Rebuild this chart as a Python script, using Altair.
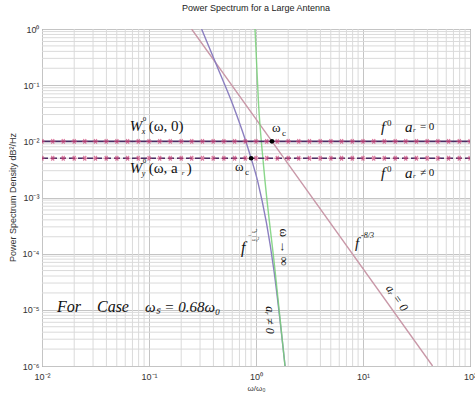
import math
import altair as alt
import pandas as pd

# ---- axes -------------------------------------------------------------
x_ticks = [0.01, 0.1, 1, 10, 100]
x_tick_labels = ["10⁻²", "10⁻¹", "10⁰", "10¹", "10²"]
y_ticks = [1, 0.1, 0.01, 0.001, 1e-4, 1e-5, 1e-6]
y_tick_labels = ["10⁰", "10⁻¹", "10⁻²", "10⁻³", "10⁻⁴", "10⁻⁵", "10⁻⁶"]
minor_mantissas = [2, 3, 4, 5, 6, 7, 8, 9]
x_decades = [0.01, 0.1, 1, 10]
y_decades = [1e-6, 1e-5, 1e-4, 1e-3, 1e-2, 0.1]

# ---- flat (f^0) spectra ---------------------------------------------------
marker_mantissas = [1.0, 1.26, 1.58, 2.0, 2.51, 3.16, 3.98, 5.01, 6.31, 7.94]
flat_level_ar0 = 0.01      # W_x^0(w, 0)
flat_level_ar = 0.005      # W_y^0(w, a_r)

# ---- f^-8/3 spectrum, a_r = 0 ----------------------------------------------
pink_x = [0.25, 1.41, 44.7]
pink_y = [1.0, 1e-2, 1e-6]

# ---- spectrum for a_r != 0 ---------------------------------------------------
purple_x = [0.31, 0.44, 0.61, 0.79, 0.90, 1.04, 1.47, 1.87]
purple_y = [1.0, 0.2, 0.044, 0.011, 0.005, 0.0019, 5.1e-5, 1e-6]

# ---- limit w -> infinity -----------------------------------------------------
green_x = [0.979, 1.055, 1.175, 1.505, 1.866]
green_y = [1.0, 0.048, 0.0038, 5.1e-5, 1e-6]

# ---- corner frequencies w_c ----------------------------------------------------
wc_x = [1.41, 0.90]
wc_y = [0.01, 0.005]

SERIF = "Liberation Serif"
SANS = "Liberation Sans"


def label_expr(ticks, labels):
    expr = "''"
    for v, lab in reversed(list(zip(ticks, labels))):
        e = int(round(math.log10(v)))
        expr = f"round(log(datum.value)/LN10) == {e} ? '{lab}' : ({expr})"
    return expr


xscale = alt.Scale(type="log", domain=[0.01, 100], nice=False)
yscale = alt.Scale(type="log", domain=[1e-6, 1], nice=False)

xaxis = alt.Axis(values=x_ticks, labelExpr=label_expr(x_ticks, x_tick_labels),
                 grid=True, gridColor="#c4c4c4", gridWidth=1, domain=False,
                 ticks=False, labelPadding=6, labelFont=SANS, labelFontSize=9,
                 labelColor="#333", labelFlush=False,
                 title="ω/ω₀", titleFont=SANS, titleFontSize=8,
                 titleFontWeight="normal", titleColor="#333",
                 titleX=214, titleY=22, titleBaseline="middle")
yaxis = alt.Axis(values=y_ticks, labelExpr=label_expr(y_ticks, y_tick_labels),
                 grid=True, gridColor="#c4c4c4", gridWidth=1, domain=False,
                 ticks=False, labelPadding=3, labelFont=SANS, labelFontSize=9,
                 labelColor="#333", labelFlush=False,
                 title="Power Spectrum Density dB²/Hz", titleFont=SANS,
                 titleFontSize=9, titleFontWeight="normal", titleColor="#333",
                 titleX=-30, titleY=168, titleAngle=270, titleAlign="center",
                 titleBaseline="middle")


def X(field="x"):
    return alt.X(f"{field}:Q", scale=xscale, axis=xaxis)


def Y(field="y"):
    return alt.Y(f"{field}:Q", scale=yscale, axis=yaxis)


# minor grid
minor_x = pd.DataFrame({"x": [m * d for d in x_decades for m in minor_mantissas]})
minor_y = pd.DataFrame({"y": [m * d for d in y_decades for m in minor_mantissas]})
grid_v = alt.Chart(minor_x).mark_rule(color="#dadada", strokeWidth=1).encode(x=X())
grid_h = alt.Chart(minor_y).mark_rule(color="#dadada", strokeWidth=1).encode(y=Y())

# flat spectra with markers
marker_x = [m * d for d in [0.01, 0.1, 1, 10] for m in marker_mantissas] + [100.0]
flat = pd.DataFrame({
    "x": marker_x * 2,
    "y": [flat_level_ar0] * len(marker_x) + [flat_level_ar] * len(marker_x),
    "s": ["a0"] * len(marker_x) + ["ar"] * len(marker_x),
})
line_col = "#4a2d63"
mark_col = "#d0457a"
flat_solid = alt.Chart(flat[flat.s == "a0"]).mark_line(
    color=line_col, strokeWidth=1.6, clip=True).encode(x=X(), y=Y())
flat_dash = alt.Chart(flat[flat.s == "ar"]).mark_line(
    color=line_col, strokeWidth=1.6, strokeDash=[6, 3], clip=True).encode(x=X(), y=Y())
asterisk = "M-1,0L1,0M-0.5,-0.87L0.5,0.87M-0.5,0.87L0.5,-0.87"
flat_marks = alt.Chart(flat).mark_point(
    shape=asterisk, filled=False, color=mark_col, size=30, strokeWidth=1.2,
    clip=True).encode(x=X(), y=Y())

pink = alt.Chart(pd.DataFrame({"x": pink_x, "y": pink_y})).mark_line(
    color="#c998a8", strokeWidth=1.4, clip=True).encode(x=X(), y=Y())
purple = alt.Chart(pd.DataFrame({"x": purple_x, "y": purple_y})).mark_line(
    color="#8b7fc0", strokeWidth=1.4, interpolate="monotone", clip=True).encode(x=X(), y=Y())
green = alt.Chart(pd.DataFrame({"x": green_x, "y": green_y})).mark_line(
    color="#77d077", strokeWidth=1.4, interpolate="monotone", opacity=0.85,
    clip=True).encode(x=X(), y=Y())
wc = alt.Chart(pd.DataFrame({"x": wc_x, "y": wc_y})).mark_point(
    filled=True, color="black", size=22, opacity=1).encode(x=X(), y=Y())


def txt(x, y, text, size, dx=0, dy=0, angle=0, font=SERIF, style="italic",
        align="left", color="#111"):
    kw = dict(text=text, fontSize=size, dx=dx, dy=dy, font=font, fontStyle=style,
              align=align, baseline="middle", color=color)
    if angle:
        kw["angle"] = angle
    return alt.Chart(pd.DataFrame({"x": [x], "y": [y]})).mark_text(**kw).encode(x=X(), y=Y())


labels = [
    # W_x^0(w, 0)
    txt(0.066, 0.019, "W", 15),
    txt(0.066, 0.019, "0", 7, dx=13, dy=-7, style="normal"),
    txt(0.066, 0.019, "x", 8, dx=12, dy=6),
    txt(0.066, 0.019, "(ω, 0)", 15, dx=19, style="normal"),
    # W_y^0(w, a_r)
    txt(0.066, 0.0034, "W", 15),
    txt(0.066, 0.0034, "0", 7, dx=13, dy=-7, style="normal"),
    txt(0.066, 0.0034, "y", 8, dx=12, dy=6),
    txt(0.066, 0.0034, "(ω, a", 15, dx=19, style="normal"),
    txt(0.066, 0.0034, "r", 7, dx=52, dy=5),
    txt(0.066, 0.0034, ")", 15, dx=57, style="normal"),
    # w_c labels
    txt(1.41, 0.0173, "ω", 13, style="normal"),
    txt(1.41, 0.0173, "c", 9, dx=10, dy=5, style="normal"),
    txt(0.636, 0.0035, "ω", 13, style="normal"),
    txt(0.636, 0.0035, "c", 9, dx=10, dy=5, style="normal"),
    # f^0 a_r = 0
    txt(14.7, 0.018, "f", 15),
    txt(14.7, 0.018, "0", 9, dx=6, dy=-4, style="normal"),
    txt(14.7, 0.018, "a", 15, dx=24),
    txt(14.7, 0.018, "r", 7, dx=32, dy=3),
    txt(14.7, 0.018, "= 0", 11, dx=39, style="normal"),
    # f^0 a_r != 0
    txt(14.7, 0.0027, "f", 15),
    txt(14.7, 0.0027, "0", 9, dx=6, dy=-4, style="normal"),
    txt(14.7, 0.0027, "a", 15, dx=24),
    txt(14.7, 0.0027, "r", 7, dx=32, dy=3),
    txt(14.7, 0.0027, "≠ 0", 11, dx=39, style="normal"),
    # f^-8/3
    txt(8.42, 1.55e-4, "f", 15),
    txt(8.42, 1.55e-4, "-8/3", 8, dx=6, dy=-7),
    # a_r = 0 along the -8/3 line
    txt(20.8, 1.63e-5, "aᵣ = 0", 12, angle=55, align="center"),
    # f^(-w^2/w_s^2)
    txt(0.724, 1.26e-4, "f", 16),
    txt(0.724, 1.26e-4, "−", 6, dx=7, dy=-13, style="normal"),
    txt(0.724, 1.26e-4, "ω²", 5, dx=11, dy=-17),
    txt(0.724, 1.26e-4, "—", 5, dx=11, dy=-13, style="normal"),
    txt(0.724, 1.26e-4, "ωₛ²", 5, dx=11, dy=-9),
    # w -> infinity
    txt(1.83, 1.31e-4, "ω → ∞", 13, angle=90, align="center", style="normal"),
    # a_r != 0 on the steep branch
    txt(1.35, 6.6e-6, "aᵣ ≠ 0", 12, angle=90, align="center"),
    # case note
    txt(0.0138, 1.12e-5, "For", 16),
    txt(0.0138, 1.12e-5, "Case", 16, dx=40),
    txt(0.0138, 1.12e-5, "ωₛ = 0.68ω₀", 15, dx=88),
]

chart = alt.layer(
    grid_v, grid_h, pink, purple, green, flat_solid, flat_dash, flat_marks, wc,
    *labels,
).properties(
    width=428, height=337,
    autosize=alt.AutoSizeParams(type="none"),
    padding={"left": 42, "top": 29, "right": 5, "bottom": 32},
    title=alt.TitleParams("Power Spectrum for a Large Antenna", font=SANS,
                          fontSize=9, fontWeight="normal", color="#222",
                          anchor="middle", offset=12),
).configure_view(stroke="#666", strokeWidth=1)

chart.save("out.html", embed_options={"renderer": "svg", "actions": False})
